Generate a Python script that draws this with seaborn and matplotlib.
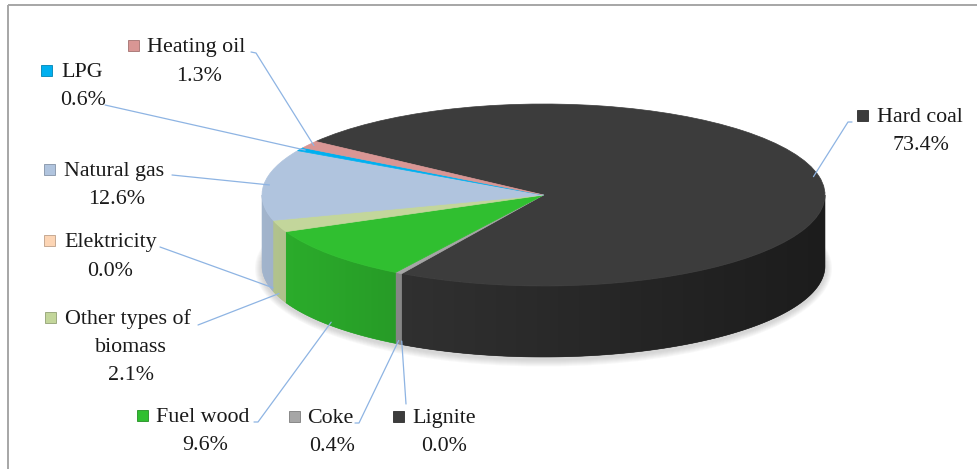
import numpy as np
import matplotlib
matplotlib.use("Agg")
import matplotlib.pyplot as plt
from matplotlib.patches import Polygon, Rectangle, Ellipse
import seaborn as sns

# ---- data -------------------------------------------------------------
categories = ["Hard coal", "Lignite", "Coke", "Fuel wood", "Other types of",
              "Elektricity", "Natural gas", "LPG", "Heating oil"]
extra_lines = {"Other types of": "biomass"}
shares = [73.4, 0.0, 0.4, 9.6, 2.1, 0.0, 12.6, 0.6, 1.3]
pct_labels = [f"{v:.1f}%" for v in shares]

# ---- styling ----------------------------------------------------------
slice_colors = ["#3c3c3c", "#3c3c3c", "#a6a6a6", "#30bf30", "#c3d69b",
                "#fcd5b5", "#b0c4de", "#00b0f0", "#d99694"]
leader_color = "#8eb4e3"
text_color = "#1a1a1a"

# label layout in pixel coordinates: key square left, name left, baseline,
# percentage centre x and baseline, leader start points
layout = {
    "Hard coal":      dict(key=857, name=877, base=122, pct=(921, 150), lead=[(852, 122), (848, 122)]),
    "Lignite":        dict(key=393, name=412, base=423, pct=(444, 451), lead=[(406, 404)]),
    "Coke":           dict(key=289, name=307, base=423, pct=(332, 451), lead=[(355, 423), (359, 423)]),
    "Fuel wood":      dict(key=137, name=156, base=422, pct=(205, 450), lead=[(254, 422), (258, 422)]),
    "Other types of": dict(key=45,  name=65,  base=324, pct=(131, 380), lead=[(198, 325)]),
    "Elektricity":    dict(key=44,  name=64,  base=247, pct=(110, 276), lead=[(160, 247)]),
    "Natural gas":    dict(key=44,  name=64,  base=176, pct=(117, 204), lead=[(172, 175)]),
    "LPG":            dict(key=41,  name=61,  base=77,  pct=(83, 105),  lead=[(105, 105)]),
    "Heating oil":    dict(key=128, name=147, base=52,  pct=(199, 81),  lead=[(251, 52), (256, 53)]),
}

sns.set_theme(style="white")
plt.rcParams["font.family"] = ["Liberation Serif", "DejaVu Serif"]
FS = 15.8

W, H = 978, 469
fig = plt.figure(figsize=(W / 100, H / 100), dpi=100)
fig.patch.set_facecolor("white")

# pie geometry (pixels): ellipse centre, radii and thickness
CX, CY, RX, RY, DEPTH = 543.5, 195.0, 281.5, 91.0, 71.0
D = DEPTH / RY

ax = fig.add_axes([0, 0, 1, 1])
palette = sns.color_palette(slice_colors)
wedges, _ = ax.pie(shares, colors=palette, startangle=144, counterclock=False,
                   wedgeprops=dict(linewidth=0, zorder=4))
for w, v in zip(wedges, shares):
    if v > 0:
        w.set_edgecolor(w.get_facecolor())
        w.set_linewidth(0.5)
ax.set_aspect("auto")
xlim = (-CX / RX, (W - CX) / RX)
ylim = (-(H - CY) / RY, CY / RY)
ax.set_xlim(*xlim)
ax.set_ylim(*ylim)
ax.axis("off")

# soft shadow below the disc
for e in range(1, 8):
    ax.add_patch(Ellipse((0, -D - 2.5 / RY), 2 + 2 * e / RX, 2 + 2 * e / RY,
                         facecolor="#707070", edgecolor="none", alpha=0.045, zorder=1))


def front_ranges(t1, t2):
    out = []
    for k in range(-2, 3):
        lo, hi = -180 + 360 * k, 360 * k
        a, b = max(t1, lo), min(t2, hi)
        if b > a:
            out.append((a, b))
    return out


# extruded side walls on the visible (front) half, shaded left to right
gx = np.linspace(-1, 1, 400)
shade = 0.92 - 0.45 * (gx + 1) / 2
for w, col in zip(wedges, palette):
    for a, b in front_ranges(w.theta1, w.theta2):
        th = np.radians(np.linspace(a, b, max(8, int(b - a) * 2)))
        xs, ys = np.cos(th), np.sin(th)
        pts = np.column_stack([np.r_[xs, xs[::-1]], np.r_[ys, ys[::-1] - D]])
        mid_u = (np.cos(np.radians((a + b) / 2)) + 1) / 2
        base_c = tuple(np.clip(np.array(col) * (0.92 - 0.45 * mid_u), 0, 1))
        side = Polygon(pts, closed=True, facecolor=base_c, edgecolor=base_c,
                       lw=0.4, zorder=2)
        ax.add_patch(side)
        grad = np.clip(np.array(col)[None, None, :] * shade[None, :, None], 0, 1)
        im = ax.imshow(grad, extent=(-1, 1, -D - 1, 0.1), aspect="auto",
                       interpolation="bilinear", zorder=2.5)
        im.set_clip_path(side)
ax.set_xlim(*xlim)
ax.set_ylim(*ylim)

# ---- labels -----------------------------------------------------------
lab = fig.add_axes([0, 0, 1, 1])
lab.set_xlim(0, W)
lab.set_ylim(H, 0)
lab.axis("off")

# frame
lab.plot([8, 8], [H, 5], color="#a6a6a6", lw=1.4, solid_capstyle="butt")
lab.plot([8, W], [5, 5], color="#a6a6a6", lw=1.4, solid_capstyle="butt")


def leader_end(w):
    mid = (w.theta1 + w.theta2) / 2
    t = np.radians(mid)
    if np.sin(t) < 0:
        return CX + RX * np.cos(t), CY - RY * np.sin(t) + 0.95 * DEPTH
    return CX + 0.98 * RX * np.cos(t), CY - 0.98 * RY * np.sin(t)


for name, pct, w, col in zip(categories, pct_labels, wedges, palette):
    L = layout[name]
    base = L["base"]
    dark = tuple(np.clip(np.array(col) * 0.75, 0, 1))
    lab.add_patch(Rectangle((L["key"], base - 12), 11, 11, facecolor=col,
                            edgecolor=dark, lw=0.6))
    lab.text(L["name"], base, name, fontsize=FS, color=text_color,
             ha="left", va="baseline")
    px, py = L["pct"]
    if name in extra_lines:
        lab.text(px, base + 28, extra_lines[name], fontsize=FS, color=text_color,
                 ha="center", va="baseline")
    lab.text(px, py, pct, fontsize=FS, color=text_color, ha="center", va="baseline")
    pts = L["lead"] + [leader_end(w)]
    lab.plot([p[0] for p in pts], [p[1] for p in pts], color=leader_color,
             lw=0.9, zorder=5)

fig.savefig("out.png", dpi=100)
